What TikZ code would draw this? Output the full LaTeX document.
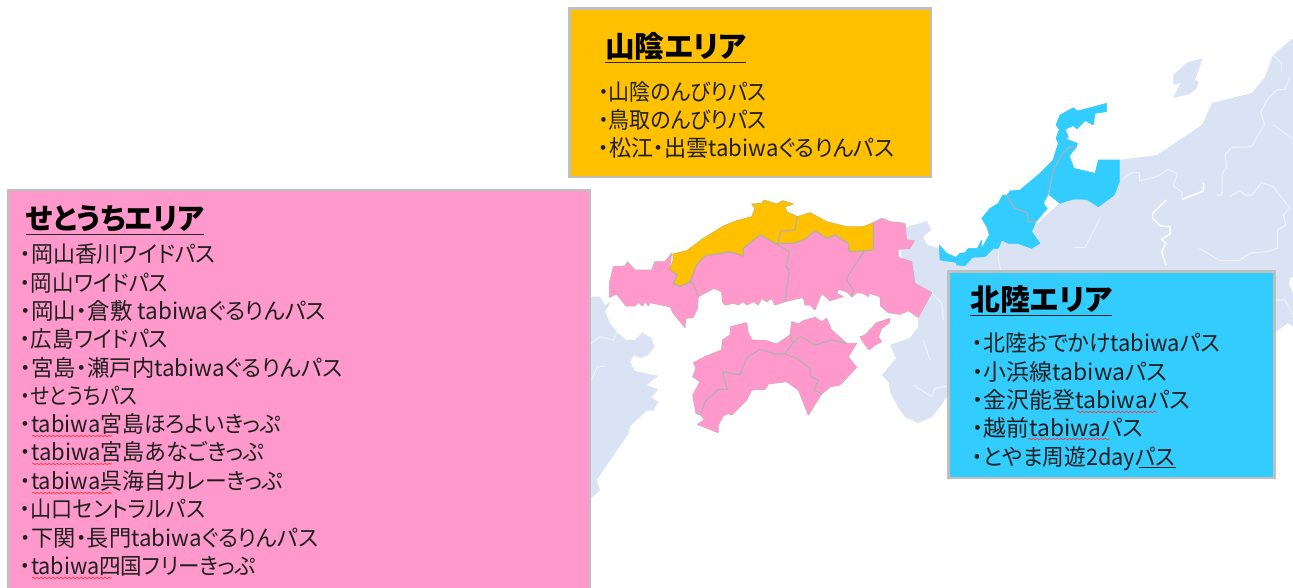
\documentclass[tikz,border=0pt]{standalone}
\usepackage{fontspec}
\usepackage{graphicx}
\setmainfont[RawFeature=+palt]{Noto Sans CJK JP}
\usetikzlibrary{decorations.pathmorphing}
\definecolor{landblue}{HTML}{DAE3F3}
\definecolor{areapink}{HTML}{FF99CC}
\definecolor{areaorange}{HTML}{FFC000}
\definecolor{areacyan}{HTML}{33CCFF}
\definecolor{edgegray}{HTML}{BFBFBF}
\definecolor{prefgray}{HTML}{B0B0B0}
\definecolor{outerpink}{HTML}{DDA6C2}
\definecolor{outerorange}{HTML}{D9B84A}
\newcounter{tl}
% x0, x1, centre y, text
\newcommand{\passline}[4]{\stepcounter{tl}\node[passtext] (pl\arabic{tl}) at (#1,#3+8.5)
  {\resizebox{\dimexpr #2pt*3/4-#1pt*3/4\relax}{\height}{#4}};}
\newcommand{\headline}[4]{\stepcounter{tl}\node[headtext] (pl\arabic{tl}) at (#1,#3)
  {\resizebox{\dimexpr #2pt*3/4-#1pt*3/4\relax}{\height}{#4}};
  \draw[headrule] (pl\arabic{tl}.base west)++(0,5.5) -- ++(#2-#1,0);}
\newcommand{\spell}[3]{\draw[spellwave] (#1,#3) -- (#2,#3);}
\tikzset{
  passtext/.style={anchor=base west,inner sep=0,font=\fontsize{17}{20}\selectfont,text=black!88},
  headtext/.style={anchor=base west,inner sep=0,font=\fontsize{22}{26}\selectfont\bfseries,text=black},
  headrule/.style={line width=1.1pt,black!85},
  panel/.style={draw=edgegray,line width=1.9pt},
  land/.style={fill=landblue,draw=none},
  border/.style={draw=white,opacity=.55,line width=.8pt,line join=round},
  pinkpref/.style={fill=areapink,draw=outerpink,line width=.6pt,line join=round},
  orangepref/.style={fill=areaorange,draw=outerorange,line width=.6pt,line join=round},
  cyanpref/.style={fill=areacyan,draw=areacyan,line width=.4pt,line join=round},
  innerline/.style={draw=prefgray,line width=.8pt,line join=round},
  zoomone/.style={shift={(590,180)},x=.25pt,y=-.25pt},
  zoomtwo/.style={shift={(930,30)},x=.25pt,y=-.25pt},
  zoomkyu/.style={shift={(585,290)},x=.25pt,y=-.25pt},
  spellwave/.style={draw=red!80,line width=.5pt,decorate,decoration={snake,segment length=3pt,amplitude=.5pt}}
}
\begin{document}
\begin{tikzpicture}[x=.75pt,y=-.75pt]
\clip (0,0) rectangle (1293,587);
\fill[white] (0,0) rectangle (1293,587);

% Honshu background
\path[land] (907,227)--(927,221)--(931,230)--(923,237)--(927,245)--(938,248)--(957,260)--(997,243)--(1030,230)--(1063,200)--(1097,197)--(1117,163)--(1119,160)--(1157,155)--(1202,125)--(1212,103)--(1252,93)--(1265,77)--(1273,55)--(1292,39)--(1293,39)--(1293,277)--(1290,278)--(1289,285)--(1293,293)--(1293,327)--(1288,323)--(1276,332)--(1000,400)--(948,395)--(940,407)--(932,417)--(918,423)--(905,417)--(898,407)--(890,392)--(889,383)--(882,375)--(896,358)--(890,345)--(910,338)--(918,327)--(918,317)--(905,300)--(900,240)--cycle;

% Sado
\begin{scope}[zoomtwo]
\path[land] (730,135)--(770,98)--(818,85)--(795,150)--(805,155)--(800,175)--(780,192)--(730,203)--(752,158)--(730,165)--cycle;
\draw[border] (1030,75)--(1055,100)--(1055,125);
\draw[border] (1080,140)--(1065,178)--(1040,180)--(1015,205)--(992,245)--(1003,282)--(965,350)--(905,352)--(885,375)--(890,410)--(878,430)--(875,495)--(860,495);
\draw[border] (1030,285)--(1086,325);
\draw[border] (580,445)--(605,428)--(628,428)--(628,453)--(680,440)--(715,418)--(742,430)--(730,468)--(755,485)--(757,508)--(820,483);
\draw[draw=white,line width=1.2pt,opacity=.9] (757,508)--(820,483)--(820,458);
\draw[draw=white,line width=1.2pt,opacity=.9] (708,510)--(668,550)--(668,565)--(692,588)--(720,590)--(720,612)--(695,628)--(708,640)--(695,665)--(708,705);
\draw[border] (898,500)--(930,482)--(945,495)--(965,495)--(995,458)--(1030,470)--(1080,535)--(1060,555)--(1068,585)--(1042,600)--(1042,655)--(1010,665)--(965,668)--(925,692)--(870,692)--(808,655);
\draw[border] (205,650)--(205,690)--(212,720);
\draw[border] (430,652)--(465,652)--(510,565);
\end{scope}
\begin{scope}[zoomone]
\draw[border] (1025,338)--(1055,370)--(1060,420);
\draw[border] (1000,480)--(1020,540);
\draw[border] (970,615)--(1025,650)--(1035,625)--(1075,618);
\end{scope}
\draw[border] (1276,300)--(1285,300)--(1293,315);

% Kyushu
\begin{scope}[zoomkyu]
\path[land] (0,20)--(45,20)--(60,45)--(78,35)--(60,65)--(75,100)--(95,125)--(122,150)--(150,150)--(172,127)--(200,145)--(208,170)--(190,195)--(165,205)--(148,195)--(135,215)--(150,243)--(220,258)--(185,285)--(220,298)--(198,322)--(220,335)--(205,362)--(185,362)--(135,408)--(130,432)--(35,570)--(45,600)--(15,628)--(0,628)--cycle;
\draw[border] (18,160)--(45,140)--(85,150)--(97,125);
\draw[border] (20,270)--(35,232)--(60,228);
\end{scope}

% Chugoku and Shikoku
\begin{scope}[zoomone]
\path[pinkpref] (58,310)--(70,260)--(105,258)--(112,245)--(135,270)--(185,270)--(195,245)--(225,245)--(245,220)--(238,268)--(262,285)--(250,310)--(270,320)--(300,305)--(310,310)--(325,350)--(322,385)--(310,412)--(287,415)--(285,443)--(250,400)--(240,380)--(180,368)--(175,378)--(165,365)--(158,378)--(145,368)--(135,378)--(108,378)--(80,342)--(58,352)--cycle;
\path[pinkpref] (345,228)--(420,215)--(460,228)--(460,205)--(510,165)--(555,190)--(598,215)--(588,260)--(598,270)--(585,365)--(555,375)--(545,355)--(530,365)--(515,355)--(505,375)--(490,365)--(470,375)--(460,365)--(445,375)--(430,370)--(405,375)--(397,365)--(395,335)--(372,325)--(325,350)--(310,310)--(300,305)--(320,255)--cycle;
\path[pinkpref] (555,190)--(610,190)--(645,178)--(675,152)--(710,175)--(735,165)--(775,190)--(778,215)--(822,215)--(775,285)--(770,300)--(790,330)--(785,350)--(770,335)--(745,328)--(740,340)--(760,350)--(720,362)--(695,340)--(675,390)--(660,375)--(645,375)--(640,352)--(585,365)--(598,270)--(588,260)--(598,215)--cycle;
\path[pinkpref] (850,128)--(875,115)--(900,125)--(945,130)--(950,180)--(973,182)--(960,205)--(925,208)--(925,232)--(965,245)--(975,310)--(1025,338)--(985,412)--(955,392)--(930,403)--(895,398)--(872,378)--(870,350)--(838,340)--(835,350)--(820,340)--(800,338)--(788,350)--(790,330)--(770,300)--(775,285)--(822,215)--(850,210)--cycle;
\path[pinkpref] (900,415)--(898,428)--(875,445)--(865,470)--(875,485)--(855,495)--(837,510)--(822,490)--(810,470)--(825,465)--(860,428)--cycle;
\path[orangepref] (248,222)--(290,212)--(340,175)--(400,138)--(440,122)--(485,110)--(495,85)--(485,72)--(515,70)--(522,60)--(560,72)--(578,62)--(610,72)--(585,80)--(590,95)--(622,110)--(660,98)--(710,125)--(770,140)--(820,140)--(850,128)--(850,210)--(815,215)--(778,215)--(775,190)--(735,165)--(710,175)--(675,152)--(645,178)--(610,190)--(565,190)--(555,190)--(510,165)--(460,205)--(460,228)--(420,215)--(345,228)--(320,255)--(300,305)--(270,320)--(250,310)--(262,285)--(238,268)--(250,240)--cycle;
\path[pinkpref] (310,548)--(345,530)--(395,510)--(397,480)--(420,465)--(422,440)--(470,428)--(475,460)--(487,480)--(530,482)--(560,492)--(600,465)--(608,490)--(585,522)--(555,522)--(510,508)--(470,533)--(450,585)--(398,575)--(412,628)--(385,628)--(345,665)--(332,705)--(318,700)--(308,645)--(330,605)--(308,590)--(318,565)--cycle;
\path[pinkpref] (398,575)--(450,585)--(470,533)--(510,508)--(555,522)--(585,522)--(620,535)--(660,565)--(662,590)--(685,600)--(672,630)--(695,642)--(655,705)--(625,630)--(590,605)--(535,612)--(525,628)--(485,630)--(470,660)--(425,705)--(415,700)--(400,708)--(385,735)--(385,758)--(322,733)--(343,720)--(332,705)--(345,665)--(385,628)--(412,628)--cycle;
\path[pinkpref] (585,522)--(608,490)--(630,468)--(675,495)--(725,480)--(770,490)--(800,490)--(775,530)--(800,562)--(750,615)--(722,620)--(695,642)--(672,630)--(685,600)--(662,590)--(660,565)--(620,535)--cycle;
\path[pinkpref] (600,465)--(605,425)--(625,432)--(640,422)--(675,412)--(695,425)--(710,415)--(725,450)--(770,490)--(725,480)--(675,495)--(630,468)--(608,490)--cycle;
% prefecture boundaries
\draw[innerline] (622,110)--(615,150)--(572,153)--(562,190);
\draw[innerline] (238,268)--(262,285)--(250,310)--(270,320)--(300,305)--(310,310)--(325,350);
\draw[innerline] (300,305)--(320,255)--(345,228)--(420,215)--(460,228)--(460,205)--(510,165)--(555,190)--(598,215)--(588,260)--(598,270)--(585,365);
\draw[innerline] (555,190)--(610,190)--(645,178)--(675,152)--(710,175)--(735,165)--(775,190)--(778,215)--(850,210);
\draw[innerline] (822,215)--(775,285)--(770,300)--(790,330)--(785,350);
\draw[innerline] (850,128)--(850,210);
\draw[innerline] (600,465)--(608,490)--(585,522)--(555,522)--(510,508)--(470,533)--(450,585)--(398,575)--(412,628)--(385,628)--(345,665)--(332,705);
\draw[innerline] (585,522)--(620,535)--(660,565)--(662,590)--(685,600)--(672,630)--(695,642);
\draw[innerline] (608,490)--(630,468)--(675,495)--(725,480)--(770,490);
\end{scope}

% Hokuriku
\begin{scope}[zoomtwo]
\path[cyanpref] (530,220)--(530,245)--(495,250)--(490,285)--(465,272)--(440,297)--(430,287)--(405,298)--(415,320)--(408,327)--(442,340)--(440,350)--(418,352)--(395,375)--(370,420)--(355,492)--(340,520)--(352,535)--(318,575)--(295,575)--(292,548)--(255,535)--(230,497)--(240,483)--(270,480)--(330,430)--(368,392)--(385,340)--(378,325)--(388,298)--(378,285)--(390,255)--(430,233)--(442,243)--cycle;
\path[cyanpref] (418,352)--(440,350)--(418,378)--(432,415)--(495,430)--(505,390)--(568,390)--(568,455)--(553,495)--(505,530)--(470,508)--(430,507)--(390,520)--(358,495)--(370,420)--(395,375)--cycle;
\path[cyanpref] (218,495)--(230,497)--(255,535)--(292,548)--(295,575)--(318,575)--(305,605)--(330,640)--(305,655)--(262,640)--(235,640)--(215,630)--(205,655)--(190,655)--(165,680)--(128,682)--(105,707)--(80,705)--(78,697)--(30,690)--(28,645)--(50,670)--(78,682)--(90,670)--(105,668)--(115,655)--(142,655)--(155,630)--(155,655)--(178,615)--(170,590)--(155,565)--(180,535)--(205,520)--cycle;
\draw[innerline] (440,350)--(418,352)--(395,375)--(370,420)--(355,492);
\draw[innerline] (230,497)--(255,535)--(292,548)--(295,575)--(318,575);
\end{scope}

% Panels
\path[panel,fill=areapink] (8,190) rectangle (590,610);
\path[panel,fill=areaorange] (569.5,8.5) rectangle (931,177);
\path[panel,fill=areacyan] (948.5,271.5) rectangle (1274.5,478);

% San'in text
\headline{605}{746}{57}{山陰エリア}
\passline{598}{766}{92}{・山陰のんびりパス}
\passline{598}{766}{120}{・鳥取のんびりパス}
\passline{598}{894}{148}{・松江・出雲tabiwaぐるりんパス}

% Setouchi text
\headline{26}{204}{229}{せとうちエリア}
\passline{20}{215}{254}{・岡山香川ワイドパス}
\passline{20}{168}{283}{・岡山ワイドパス}
\passline{20}{326}{311}{・岡山・倉敷 tabiwaぐるりんパス}
\passline{20}{168}{339}{・広島ワイドパス}
\passline{20}{342}{368}{・宮島・瀬戸内tabiwaぐるりんパス}
\passline{20}{137}{396}{・せとうちパス}
\passline{20}{281}{424}{・tabiwa宮島ほろよいきっぷ}
\passline{20}{264}{452}{・tabiwa宮島あなごきっぷ}
\passline{20}{283}{481}{・tabiwa呉海自カレーきっぷ}
\passline{20}{205}{509}{・山口セントラルパス}
\passline{20}{318}{538}{・下関・長門tabiwaぐるりんパス}
\passline{20}{255}{566}{・tabiwa四国フリーきっぷ}
\spell{32}{112}{436}
\spell{32}{112}{464}
\spell{32}{112}{493}
\spell{32}{112}{578}

% Hokuriku text
\headline{970}{1112}{310}{北陸エリア}
\passline{972}{1220}{343}{・北陸おでかけtabiwaパス}
\passline{972}{1167}{372}{・小浜線tabiwaパス}
\passline{972}{1190}{400}{・金沢能登tabiwaパス}
\passline{972}{1143}{428}{・越前tabiwaパス}
\passline{972}{1175}{457}{・とやま周遊2dayパス}
\spell{1077}{1157}{412}
\spell{1028}{1110}{439}
\draw[black!85,line width=.7pt] (pl23.base east)++(-37,1.5) -- ++(37,0);
\end{tikzpicture}
\end{document}
